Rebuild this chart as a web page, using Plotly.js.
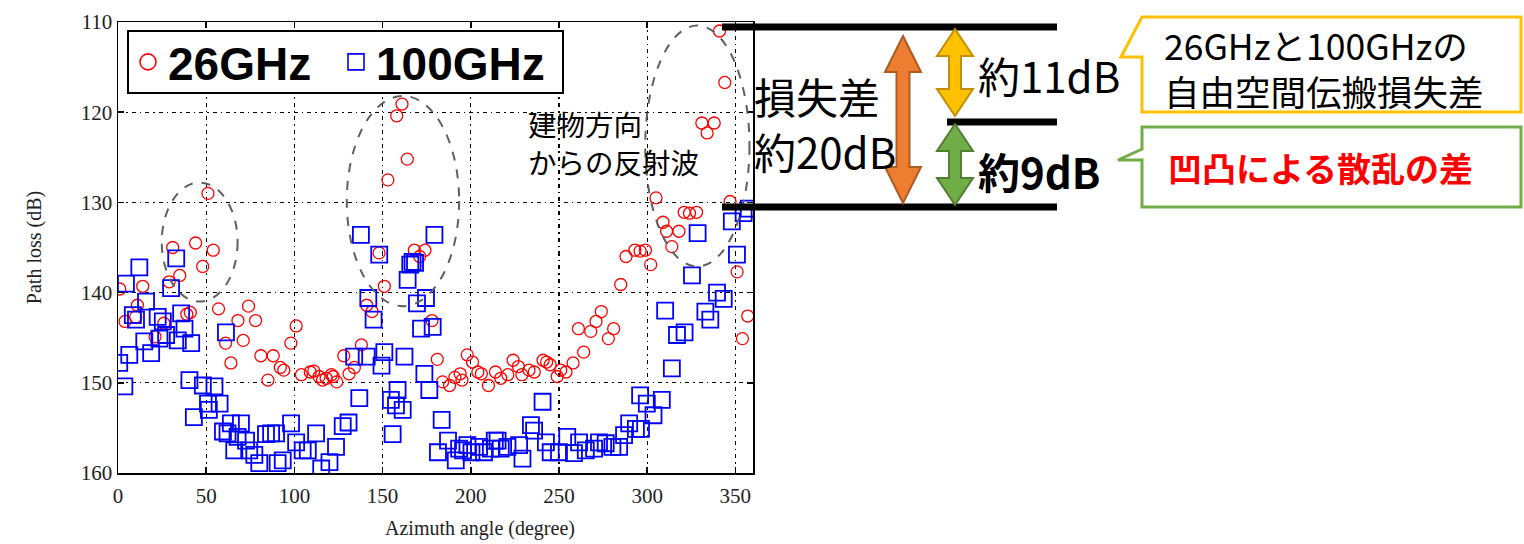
<!DOCTYPE html>
<html>
<head>
<meta charset="utf-8">
<script src="https://cdn.plot.ly/plotly-3.0.1.min.js"></script>
<style>html,body{margin:0;padding:0;background:#fff;}#chart{width:1524px;height:544px;}</style>
</head>
<body>
<div id="chart"></div>
<script>
// ---- data ----
const angle26 = [1,4,10,11,14,21,26,29,31,35,39,41,44,48,51,54,57,61,64,68,71,74,78,81,85,88,92,94,98,101,104,109,111,114,116,118,121,122,124,128,131,134,138,141,144,148,151,153,158,161,164,168,171,174,178,181,184,188,191,194,195,198,201,204,206,210,214,217,221,224,227,229,233,236,241,243,245,249,251,254,258,261,264,268,271,274,278,281,285,288,293,296,299,302,305,309,311,314,318,321,324,328,331,334,338,341,344,347,351,354,357];
const loss26  = [139.6,143.2,142.7,141.4,139.3,144.9,143.4,138.8,135.0,138.1,142.4,142.2,134.5,137.1,129.0,135.3,141.8,145.6,147.8,143.1,145.3,141.5,143.1,147.0,149.7,147.0,148.3,148.6,145.6,143.7,149.1,148.8,148.7,149.3,149.7,149.5,149.1,149.3,149.9,147.0,149.0,148.3,145.8,141.4,142.1,135.6,139.3,127.5,120.4,119.1,125.2,135.3,136.0,135.3,143.1,147.4,149.9,150.3,149.4,149.0,149.7,146.9,147.7,148.8,149.0,150.3,148.8,149.5,149.1,147.5,148.2,149.1,148.6,148.8,147.5,147.7,148.0,149.3,148.6,148.8,147.8,144.0,146.6,144.3,143.2,142.1,145.1,144.0,139.1,136.0,135.3,135.4,135.3,136.9,129.5,132.2,133.2,134.9,133.2,131.1,131.2,131.1,121.2,122.3,121.2,111.0,116.7,129.9,137.7,145.1,142.6];

const angle100 = [0.7,3.6,4.5,6.4,8.4,10.2,12.1,14.9,15.9,18.8,22.5,23.5,25.4,27.3,30.1,33,33.9,35.8,37.7,40.5,41.5,43,48.1,51,51.5,54.7,57.6,59.5,61.2,62.1,64,65.9,67.8,69.7,72.6,74.4,77.3,80.1,83.9,86.8,89.6,90.5,93.4,98.1,101,104.7,107.6,112.3,115.2,119.9,123.6,127.4,130.7,133.9,136.8,137.7,141,141.9,144.9,148.1,149.4,151,154.7,155.7,157.6,158.5,161.4,162.4,164.2,165.7,167,168.4,169.5,171.8,173.7,174.6,176.5,178.4,179.4,181.4,183.5,187.1,191.5,193.4,195.6,198.1,200.4,204.7,207.5,211.4,213.6,215.2,217,220.8,227.4,229.3,234.1,235.9,240.7,242.6,245.3,250,254.7,258.5,261.4,265.2,269.9,272.7,276.5,280.3,284.1,286.9,289.8,293.6,296,296.5,299.8,303.6,308.3,310.2,314,316.9,321.2,325.4,328.6,333,335.8,339.6,343.4,348,350.9,354.7,357.6];
const loss100  = [147.8,150.4,139.0,146.9,142.5,143.0,137.2,145.4,141.0,146.7,142.7,145.1,143.2,144.7,139.5,136.2,145.3,142.3,144.0,149.7,145.6,153.8,150.3,152.3,153.0,150.4,152.3,155.4,144.4,155.6,154.5,157.5,156.0,154.5,156.4,157.5,158.0,158.9,155.7,155.6,155.6,158.9,158.6,154.5,156.6,157.5,157.5,155.6,159.5,158.8,157.1,154.8,154.4,147.1,151.7,133.6,147.1,140.6,143.0,135.8,148.1,146.6,151.9,155.7,152.5,150.8,153.0,147.1,138.6,136.9,136.6,136.7,141.2,144.0,149.0,140.6,150.8,143.8,133.6,157.7,154.1,156.4,158.6,157.3,157.5,156.9,157.7,157.1,157.7,157.3,156.4,156.4,157.3,157.1,156.9,158.4,154.7,155.3,152.1,156.6,157.7,157.7,156.0,157.8,156.6,157.5,157.3,156.6,156.7,157.1,157.1,155.8,154.5,155.1,151.4,155.1,152.3,153.6,151.9,142.0,148.4,144.7,144.4,138.1,133.4,142.1,143.0,140.0,140.7,132.1,135.8,131.2,130.7];

const seriesNames = ["26GHz", "100GHz"];
const xTicks = [0,50,100,150,200,250,300,350];
const yTicks = [110,120,130,140,150,160];
// dashed ellipses around reflection regions: [angle min, angle max], [loss min, loss max]
const ellipseAngles = [[24.8,67.8],[129.7,193.4],[298.9,358.0]];
const ellipseLoss   = [[127.8,141.0],[118.2,141.5],[110.4,137.1]];

// ---- pixel -> paper helpers for the annotation graphics ----
const X0=118, X1=753, Y0=22, Y1=473;
const px = x => (x-X0)/(X1-X0);
const py = y => (Y1-y)/(Y1-Y0);

const traces = [
  {x: angle26, y: loss26, name: seriesNames[0], type: 'scatter', mode: 'markers', showlegend: false,
   marker: {symbol: 'circle-open', size: 12, color: '#ff0000', line: {width: 1.3}}},
  {x: angle100, y: loss100, name: seriesNames[1], type: 'scatter', mode: 'markers', showlegend: false,
   marker: {symbol: 'square-open', size: 16, color: '#0000ff', line: {width: 1.8}}},
  // legend entries (larger symbols as in the reference legend)
  {x: [null], y: [null], name: seriesNames[0], type: 'scatter', mode: 'markers', hoverinfo: 'skip',
   marker: {symbol: 'circle-open', size: 16, color: '#ff0000', line: {width: 1.6}}},
  {x: [null], y: [null], name: seriesNames[1], type: 'scatter', mode: 'markers', hoverinfo: 'skip',
   marker: {symbol: 'square-open', size: 16, color: '#0000ff', line: {width: 1.6}}}
];

function arrowPath(cx, top, bottom, hw, hl, sw){
  const pts = [[cx,top],[cx+hw/2,top+hl],[cx+sw/2,top+hl],[cx+sw/2,bottom-hl],[cx+hw/2,bottom-hl],[cx,bottom],
               [cx-hw/2,bottom-hl],[cx-sw/2,bottom-hl],[cx-sw/2,top+hl],[cx-hw/2,top+hl]];
  return 'M' + pts.map(p => px(p[0]).toFixed(5)+','+py(p[1]).toFixed(5)).join(' L') + ' Z';
}
function polyPath(pts, close){
  return 'M' + pts.map(p => px(p[0]).toFixed(5)+','+py(p[1]).toFixed(5)).join(' L') + (close?' Z':'');
}

const shapes = [];
ellipseAngles.forEach((a,i) => {
  shapes.push({type:'circle', xref:'x', yref:'y', x0:a[0], x1:a[1], y0:ellipseLoss[i][0], y1:ellipseLoss[i][1],
    line:{color:'#606060', width:2, dash:'dash'}});
});
// legend frame
shapes.push({type:'rect', xref:'paper', yref:'paper', x0:px(128), x1:px(563), y0:py(31), y1:py(93),
  fillcolor:'#fff', line:{color:'#000', width:2}, layer:'above'});
// black level bars
[[722,1057,27],[947,1057,122],[722,1057,207]].forEach(b => {
  shapes.push({type:'line', xref:'paper', yref:'paper', x0:px(b[0]), x1:px(b[1]), y0:py(b[2]), y1:py(b[2]),
    line:{color:'#000', width:7}});
});
// arrows
shapes.push({type:'path', xref:'paper', yref:'paper', path: arrowPath(903,36,203,36,36,13), fillcolor:'#ED7D31', line:{color:'#AE5A21', width:2}});
shapes.push({type:'path', xref:'paper', yref:'paper', path: arrowPath(955,29,116,36,27,12), fillcolor:'#FFC000', line:{color:'#BF9000', width:2}});
shapes.push({type:'path', xref:'paper', yref:'paper', path: arrowPath(955,124,205,36,27,12), fillcolor:'#70AD47', line:{color:'#507E32', width:2}});
// callout boxes
shapes.push({type:'path', xref:'paper', yref:'paper', path: polyPath([[1142,17],[1521,17],[1521,112],[1142,112],[1142,57],[1121,57]],true), fillcolor:'#fff', line:{color:'#FFC000', width:3}});
shapes.push({type:'path', xref:'paper', yref:'paper', path: polyPath([[1142,127],[1521,127],[1521,207],[1142,207],[1142,160],[1118,160],[1142,149]],true), fillcolor:'#fff', line:{color:'#70AD47', width:3}});

const jp = 'Noto Sans CJK JP, Noto Sans, sans-serif';
const serif = 'Liberation Serif, Times New Roman, serif';
function ann(text, x, y, size, color, extra){
  return Object.assign({text:text, xref:'paper', yref:'paper', x:px(x), y:py(y), xanchor:'left', yanchor:'middle',
    align:'left', showarrow:false, font:{family:jp, size:size, color:color||'#000'}}, extra||{});
}
const annotations = [
  ann('建物方向', 526, 123, 28.5),
  ann('からの反射波', 526, 161, 28.5),
  ann('損失差', 752, 95, 42),
  ann('約20dB', 752, 150, 42),
  ann('約11dB', 976, 74, 42),
  ann('<b>約9dB</b>', 976, 170, 42),
  ann('26GHzと100GHzの', 1162, 44, 35.5),
  ann('自由空間伝搬損失差', 1162, 91, 35.5),
  ann('<b>凹凸による散乱の差</b>', 1166, 167, 34, '#ff0000'),
  // x axis title (offset to the right as in the reference)
  {text:'Azimuth angle (degree)', xref:'paper', yref:'paper', x:px(480), y:py(528), xanchor:'center', yanchor:'middle',
   showarrow:false, font:{family:serif, size:20, color:'#222'}}
];

const layout = {
  width: 1524, height: 544,
  margin: {l: X0, r: 1524-X1, t: Y0, b: 544-Y1},
  paper_bgcolor: '#fff', plot_bgcolor: '#fff',
  showlegend: true,
  legend: {orientation: 'h', x: px(128), y: py(62), xanchor: 'left', yanchor: 'middle',
    bgcolor: 'rgba(0,0,0,0)', borderwidth: 0, entrywidth: 163, entrywidthmode: 'pixels',
    font: {family: 'Liberation Sans, Arial, sans-serif', size: 46, color: '#000', weight: 'bold'},
    itemsizing: 'trace', tracegroupgap: 0},
  xaxis: {range: [0,360], tickvals: xTicks, ticktext: xTicks.map(String),
    showline: true, mirror: 'ticks', linecolor: '#000', linewidth: 1.5,
    ticks: 'inside', ticklen: 6, tickcolor: '#000', tickwidth: 1.5, ticklabelstandoff: 3,
    showgrid: true, gridcolor: '#000', gridwidth: 1.3, griddash: '4px,4px,1.5px,4px', zeroline: false,
    tickfont: {family: serif, size: 21, color: '#222'}},
  yaxis: {range: [160,110], tickvals: yTicks, ticktext: yTicks.map(String),
    showline: true, mirror: 'ticks', linecolor: '#000', linewidth: 1.5,
    ticks: 'inside', ticklen: 6, tickcolor: '#000', tickwidth: 1.5,
    showgrid: true, gridcolor: '#000', gridwidth: 1.3, griddash: '4px,4px,1.5px,4px', zeroline: false,
    tickfont: {family: serif, size: 21, color: '#222'},
    title: {text: 'Path loss (dB)', font: {family: serif, size: 20, color: '#222'}, standoff: 34}},
  shapes: shapes,
  annotations: annotations
};

Plotly.newPlot('chart', traces, layout, {staticPlot: true, displayModeBar: false});
</script>
</body>
</html>
